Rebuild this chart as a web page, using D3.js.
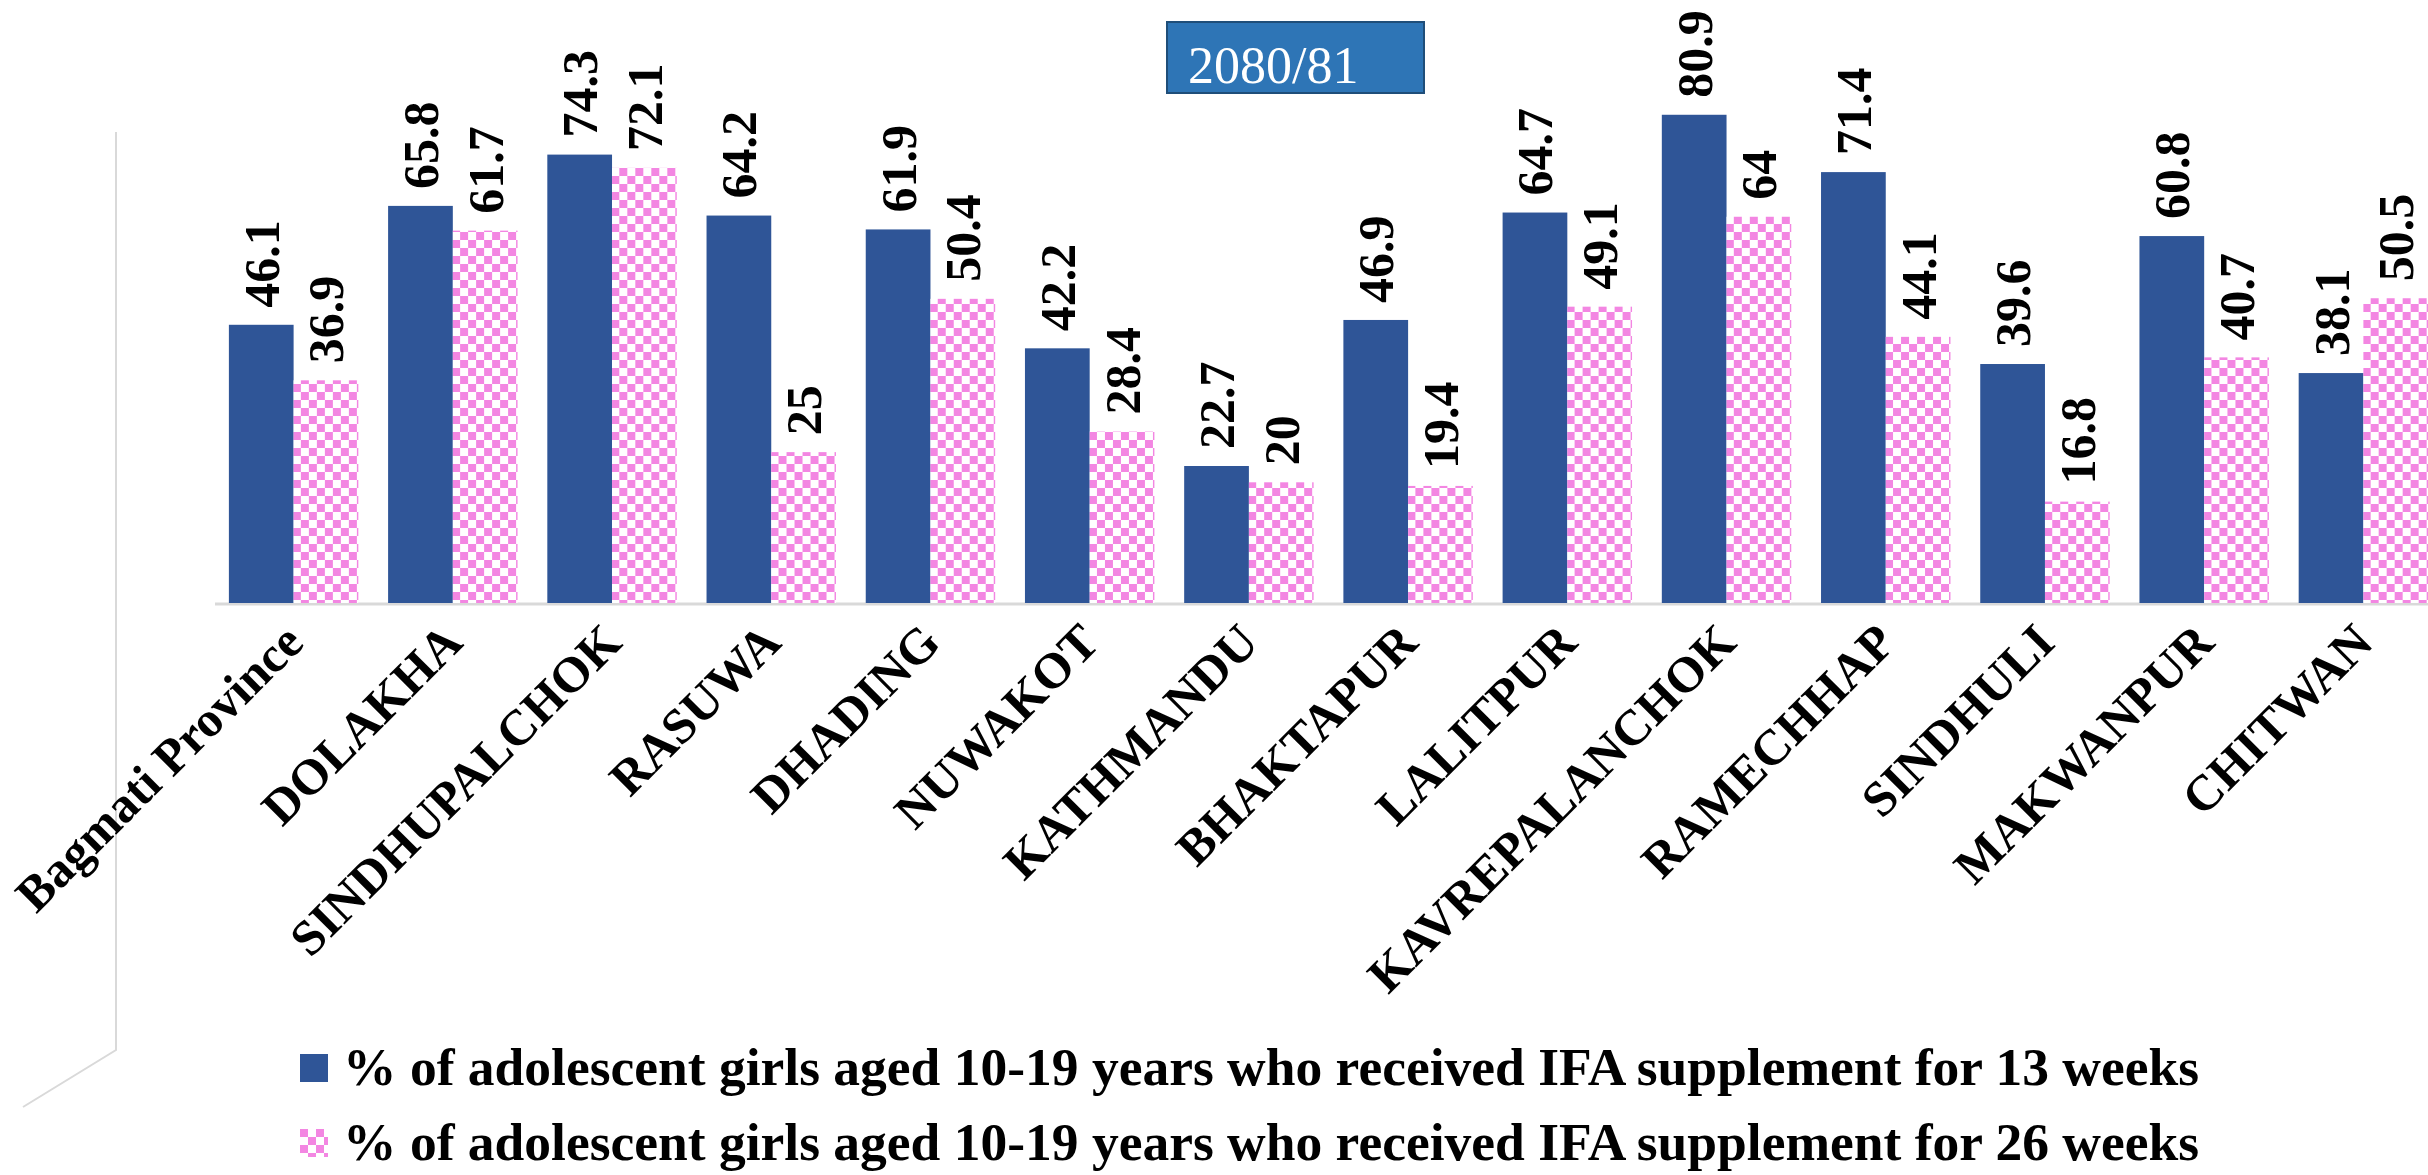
<!DOCTYPE html>
<html>
<head>
<meta charset="utf-8">
<script src="https://cdn.jsdelivr.net/npm/d3@7"></script>
<style>
  html, body { margin: 0; padding: 0; background: #fff; }
  svg { display: block; }
</style>
</head>
<body>
<svg id="svg"></svg>
<script>
// chart data
const districts = ['Bagmati Province','DOLAKHA','SINDHUPALCHOK','RASUWA','DHADING','NUWAKOT','KATHMANDU',
                   'BHAKTAPUR','LALITPUR','KAVREPALANCHOK','RAMECHHAP','SINDHULI','MAKWANPUR','CHITWAN'];
const weeks13 = [46.1, 65.8, 74.3, 64.2, 61.9, 42.2, 22.7, 46.9, 64.7, 80.9, 71.4, 39.6, 60.8, 38.1];
const weeks26 = [36.9, 61.7, 72.1, 25, 50.4, 28.4, 20, 19.4, 49.1, 64, 44.1, 16.8, 40.7, 50.5];
const seriesNames = ['% of adolescent girls aged 10-19 years who received IFA supplement for 13 weeks',
                     '% of adolescent girls aged 10-19 years who received IFA supplement for 26 weeks'];
const yearLabel = '2080/81';

document.addEventListener('DOMContentLoaded',()=>{
    const W = 2428, H = 1175;
    const svg = d3.select('#svg')
                  .attr('width', W)
                  .attr('height', H)
                  .attr('viewBox', `0 0 ${W} ${H}`);

    const serif = 'Liberation Serif';
    const blue = '#2F5597', pink = '#F386E2';

    // checkerboard fill for the 26 weeks series
    const pat = svg.append('defs').append('pattern')
                   .attr('id', 'checker')
                   .attr('patternUnits', 'userSpaceOnUse')
                   .attr('width', 16).attr('height', 16);
    pat.append('rect').attr('width', 16).attr('height', 16).attr('fill', '#fff');
    pat.append('rect').attr('width', 8).attr('height', 8).attr('fill', pink);
    pat.append('rect').attr('x', 8).attr('y', 8).attr('width', 8).attr('height', 8).attr('fill', pink);

    const base = 603;
    const x = d3.scaleBand()
                .domain(districts)
                .range([214, 2443])
                .paddingInner(0.187)
                .paddingOuter(0.0935);
    const xs = d3.scaleBand()
                 .domain([0, 1])
                 .range([0, x.bandwidth()]);
    const y = d3.scaleLinear()
                .domain([0, 100])
                .range([base, base - 603.5]);

    // 3d wall / floor edges
    svg.append('path')
       .attr('d', 'M116,132 L116,1050 L23,1107')
       .attr('fill', 'none')
       .attr('stroke', '#D9D9D9')
       .attr('stroke-width', 2);
    svg.append('line')
       .attr('x1', 215).attr('x2', W)
       .attr('y1', base + 1).attr('y2', base + 1)
       .attr('stroke', '#D9D9D9')
       .attr('stroke-width', 3);

    const series = [weeks13, weeks26];
    const fills = [blue, 'url(#checker)'];

    const groups = svg.selectAll('g.grp')
                      .data(districts)
                      .join('g')
                      .attr('class', 'grp')
                      .attr('transform', d => `translate(${x(d)},0)`);

    series.forEach((vals, s) => {
        groups.append('rect')
              .attr('x', xs(s))
              .attr('width', xs.bandwidth())
              .attr('y', (d, i) => y(vals[i]))
              .attr('height', (d, i) => base - y(vals[i]))
              .attr('fill', fills[s]);

        groups.append('text')
              .text((d, i) => vals[i])
              .style('font-family', serif)
              .style('font-weight', 'bold')
              .style('font-size', '50px')
              .attr('dy', '0.35em')
              .attr('transform', function(d, i){
                  const len = this.getComputedTextLength();
                  let ty = y(vals[i]) - 17;
                  if (ty - len < 4) ty = 4 + len;   // keep inside the top
                  return `translate(${xs(s) + xs.bandwidth()/2},${ty}) rotate(-90)`;
              });
    });

    // category labels
    svg.selectAll('text.cat')
       .data(districts)
       .join('text')
       .attr('class', 'cat')
       .text(d => d)
       .style('font-family', serif)
       .style('font-weight', 'bold')
       .style('font-size', '50px')
       .attr('text-anchor', 'end')
       .attr('transform', d => `translate(${x(d) + x.bandwidth()/2 + 12},645) rotate(-45)`);

    // year box
    svg.append('rect')
       .attr('x', 1167).attr('y', 22)
       .attr('width', 257).attr('height', 71)
       .attr('fill', '#2E75B6')
       .attr('stroke', '#1F4E79')
       .attr('stroke-width', 2);
    svg.append('text')
       .text(yearLabel)
       .attr('x', 1188).attr('y', 83)
       .style('font-family', serif)
       .style('font-size', '52px')
       .attr('fill', '#fff');

    // legend
    const leg = svg.selectAll('g.leg')
                   .data(seriesNames)
                   .join('g')
                   .attr('class', 'leg')
                   .attr('transform', (d, i) => `translate(300,${1054 + i*75})`);
    leg.append('rect')
       .attr('width', 28).attr('height', 28)
       .attr('fill', (d, i) => fills[i]);
    leg.append('text')
       .text(d => d)
       .attr('x', 43).attr('y', 31)
       .style('font-family', serif)
       .style('font-weight', 'bold')
       .style('font-size', '53.5px');
});
</script>
</body>
</html>
